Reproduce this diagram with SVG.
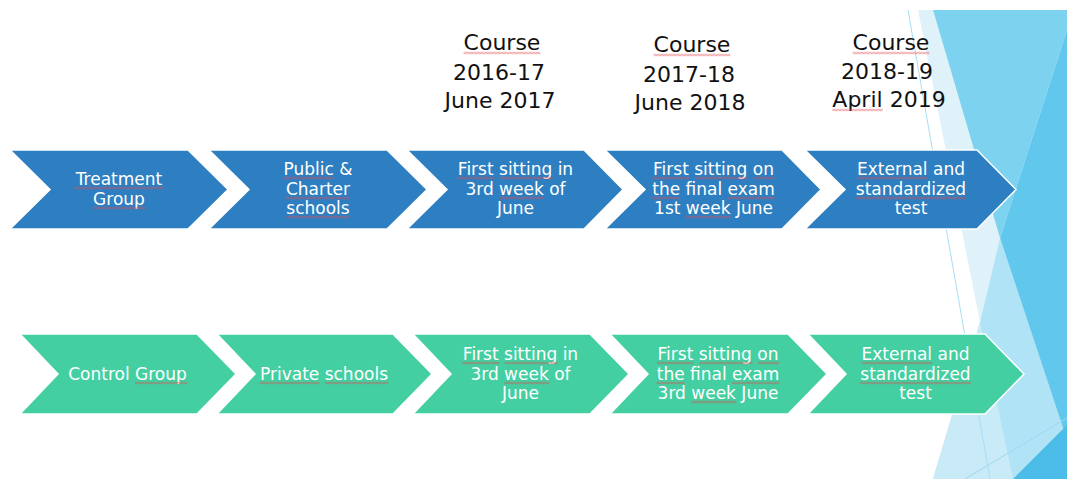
<svg xmlns="http://www.w3.org/2000/svg" width="1067" height="479" viewBox="0 0 1067 479">
  <style>
    .lbl { font-family: "DejaVu Sans", "Liberation Sans", sans-serif; font-size: 22px; fill: #111; text-anchor: middle; }
    .ct { font-family: "DejaVu Sans", "Liberation Sans", sans-serif; font-size: 17px; fill: #fff; text-anchor: middle; }
    .blue { fill: #2e7fc1; stroke: #fff; stroke-width: 1.5; }
    .green { fill: #43cfa1; stroke: #fff; stroke-width: 1.5; }
    .sq { fill: url(#squig); }
  </style>
  <defs>
    <!-- red wavy proofing underline, one period per 4px -->
    <pattern id="squig" width="4" height="3" patternUnits="userSpaceOnUse">
      <path d="M0,2.2 L2,0.8 L4,2.2" fill="none" stroke="#e2494e" stroke-width="0.9"/>
    </pattern>
  </defs>

  <!-- faceted background on the right -->
  <g id="backdrop">
    <polygon points="918,10 933,10 1000,238 980,322" fill="#dff2fa"/>
    <polygon points="933,10 1067,10 1067,30 1000,238" fill="#7dd2f0"/>
    <polygon points="1000,238 1067,440 1067,479 933,479 980,322" fill="#b0e3f5"/>
    <polygon points="980,322 933,479 1013,479" fill="#c9ebf8"/>
    <polygon points="1067,30 1000,238 1067,440" fill="#62c7ec"/>
    <polygon points="1013,479 1067,425 1067,479" fill="#4bbde8"/>
    <line x1="908" y1="10" x2="990" y2="479" stroke="#a8ddf3" stroke-width="1"/>
    <line x1="965" y1="479" x2="1067" y2="418" stroke="#9dd7f0" stroke-width="1"/>
  </g>

  <!-- school-year headings -->
  <g id="year-1617">
    <text class="lbl"><tspan x="502" y="50">Course</tspan><tspan x="499" y="80">2016-17</tspan><tspan x="500" y="108">June 2017</tspan></text>
    <rect class="sq" x="463.6" width="76.8" height="3" transform="translate(0,51.5)"/>
  </g>
  <g id="year-1718">
    <text class="lbl"><tspan x="692" y="52">Course</tspan><tspan x="689" y="82">2017-18</tspan><tspan x="690" y="110">June 2018</tspan></text>
    <rect class="sq" x="653.6" width="76.8" height="3" transform="translate(0,53.5)"/>
  </g>
  <g id="year-1819">
    <text class="lbl"><tspan x="891" y="50">Course</tspan><tspan x="887" y="79">2018-19</tspan><tspan x="889" y="107">April 2019</tspan></text>
    <rect class="sq" x="852.6" width="76.8" height="3" transform="translate(0,51.5)"/>
    <rect class="sq" x="832.4" width="50.3" height="3" transform="translate(0,108.5)"/>
  </g>

  <!-- treatment row -->
  <g id="t1">
    <polygon class="blue" points="10,150 188,150 228,189.5 188,229 10,229 50,189.5"/>
    <text class="ct"><tspan x="119" y="185">Treatment</tspan><tspan x="119" y="205">Group</tspan></text>
    <rect class="sq" x="74.3" width="89.4" height="3" transform="translate(0,186.5)"/>
    <rect class="sq" x="92.9" width="52.1" height="3" transform="translate(0,206.5)"/>
  </g>
  <g id="t2">
    <polygon class="blue" points="209,150 387,150 427,189.5 387,229 209,229 249,189.5"/>
    <text class="ct"><tspan x="318" y="175">Public &amp;</tspan><tspan x="318" y="195">Charter</tspan><tspan x="318" y="214">schools</tspan></text>
    <rect class="sq" x="283.4" width="50.6" height="3" transform="translate(0,176.5)"/>
    <rect class="sq" x="285.9" width="64.2" height="3" transform="translate(0,196.5)"/>
    <rect class="sq" x="286.3" width="63.4" height="3" transform="translate(0,215.5)"/>
  </g>
  <g id="t3">
    <polygon class="blue" points="407,150 584,150 623,189.5 584,229 407,229 447,189.5"/>
    <text class="ct"><tspan x="515.5" y="175">First sitting in</tspan><tspan x="515.5" y="195">3rd week of</tspan><tspan x="515.5" y="214">June</tspan></text>
    <rect class="sq" x="457.2" width="37" height="3" transform="translate(0,176.5)"/>
    <rect class="sq" x="499.6" width="53.2" height="3" transform="translate(0,176.5)"/>
    <rect class="sq" x="499.3" width="44.7" height="3" transform="translate(0,196.5)"/>
  </g>
  <g id="t4">
    <polygon class="blue" points="605,150 782,150 821,189.5 782,229 605,229 645,189.5"/>
    <text class="ct"><tspan x="713.5" y="175">First sitting on</tspan><tspan x="713.5" y="195">the final exam</tspan><tspan x="713.5" y="214">1st week June</tspan></text>
    <rect class="sq" x="652.4" width="37" height="3" transform="translate(0,176.5)"/>
    <rect class="sq" x="694.8" width="53.2" height="3" transform="translate(0,176.5)"/>
    <rect class="sq" x="753.4" width="21.2" height="3" transform="translate(0,176.5)"/>
    <rect class="sq" x="652.1" width="27.9" height="3" transform="translate(0,196.5)"/>
    <rect class="sq" x="727.4" width="47.5" height="3" transform="translate(0,196.5)"/>
    <rect class="sq" x="685.8" width="44.7" height="3" transform="translate(0,215.5)"/>
  </g>
  <g id="t5">
    <polygon class="blue" points="805,150 977,150 1016,189.5 977,229 805,229 845,189.5"/>
    <text class="ct"><tspan x="911" y="175">External and</tspan><tspan x="911" y="195">standardized</tspan><tspan x="911" y="214">test</tspan></text>
    <rect class="sq" x="856.9" width="70.8" height="3" transform="translate(0,176.5)"/>
    <rect class="sq" x="855.7" width="110.6" height="3" transform="translate(0,196.5)"/>
  </g>

  <!-- control row -->
  <g id="c1">
    <polygon class="green" points="20,334 197,334 236,374 197,414 20,414 58,374"/>
    <text class="ct"><tspan x="127.5" y="380">Control Group</tspan></text>
    <rect class="sq" x="135" width="52.2" height="3" transform="translate(0,381.5)"/>
  </g>
  <g id="c2">
    <polygon class="green" points="217,334 393,334 432,374 393,414 217,414 255,374"/>
    <text class="ct"><tspan x="324" y="380">Private schools</tspan></text>
    <rect class="sq" x="259.8" width="59.6" height="3" transform="translate(0,381.5)"/>
    <rect class="sq" x="324.8" width="63.4" height="3" transform="translate(0,381.5)"/>
  </g>
  <g id="c3">
    <polygon class="green" points="413,334 590,334 629,374 590,414 413,414 451,374"/>
    <text class="ct"><tspan x="520.5" y="360">First sitting in</tspan><tspan x="520.5" y="380">3rd week of</tspan><tspan x="520.5" y="399">June</tspan></text>
    <rect class="sq" x="462.2" width="37" height="3" transform="translate(0,361.5)"/>
    <rect class="sq" x="504.6" width="53.2" height="3" transform="translate(0,361.5)"/>
    <rect class="sq" x="504.3" width="44.7" height="3" transform="translate(0,381.5)"/>
  </g>
  <g id="c4">
    <polygon class="green" points="610,334 788,334 827,374 788,414 610,414 648,374"/>
    <text class="ct"><tspan x="718" y="360">First sitting on</tspan><tspan x="718" y="380">the final exam</tspan><tspan x="718" y="399">3rd week June</tspan></text>
    <rect class="sq" x="656.9" width="37" height="3" transform="translate(0,361.5)"/>
    <rect class="sq" x="699.3" width="53.2" height="3" transform="translate(0,361.5)"/>
    <rect class="sq" x="757.9" width="21.2" height="3" transform="translate(0,361.5)"/>
    <rect class="sq" x="656.6" width="27.9" height="3" transform="translate(0,381.5)"/>
    <rect class="sq" x="731.9" width="47.5" height="3" transform="translate(0,381.5)"/>
    <rect class="sq" x="691.5" width="44.7" height="3" transform="translate(0,400.5)"/>
  </g>
  <g id="c5">
    <polygon class="green" points="808,334 985,334 1024,374 985,414 808,414 846,374"/>
    <text class="ct"><tspan x="915.5" y="360">External and</tspan><tspan x="915.5" y="380">standardized</tspan><tspan x="915.5" y="399">test</tspan></text>
    <rect class="sq" x="861.4" width="70.8" height="3" transform="translate(0,361.5)"/>
    <rect class="sq" x="860.2" width="110.6" height="3" transform="translate(0,381.5)"/>
  </g>

  <g id="connectors"/>
</svg>
